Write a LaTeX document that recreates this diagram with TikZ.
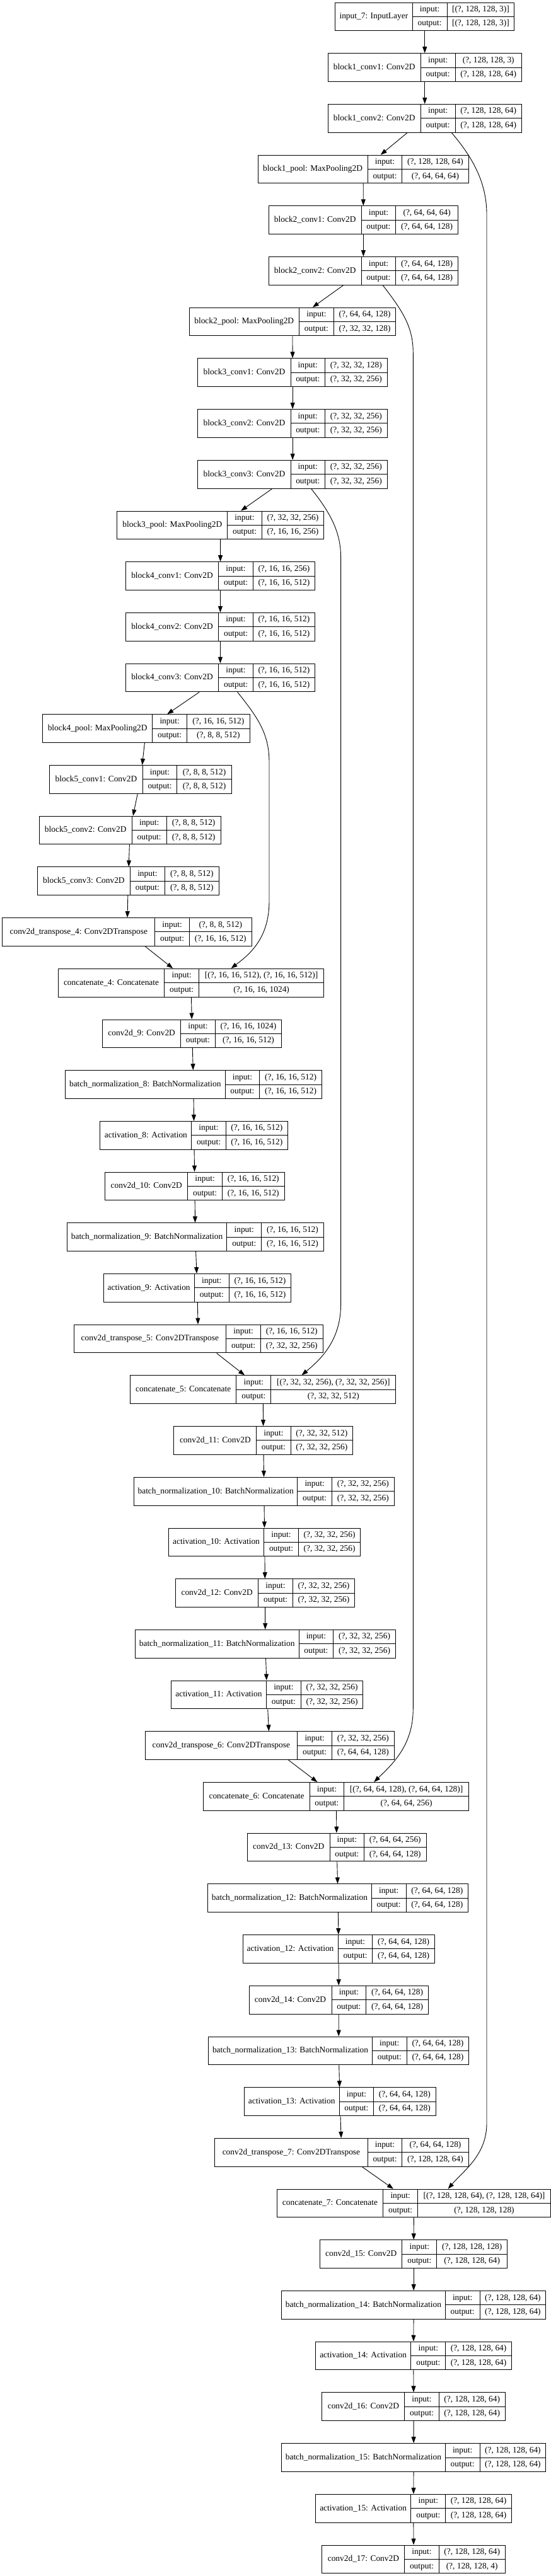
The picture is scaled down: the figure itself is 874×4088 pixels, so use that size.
\documentclass[tikz,border=0pt]{standalone}
\usepackage{fontspec}
\setmainfont{Liberation Serif}
\usetikzlibrary{arrows.meta}

% слой: имя, ряд, x левый, x разделитель 1, x разделитель 2, x правый, подпись, вход, выход
\newcommand{\layer}[9]{%
  \pgfmathsetmacro{\ltop}{4+80.7*#2}%
  \pgfmathsetmacro{\lmid}{\ltop+22.35}%
  \pgfmathsetmacro{\lbot}{\ltop+44.7}%
  \node[mybox, minimum width={(#6-#3)*1pt}] (#1) at ({(#3+#6)/2},\lmid) {};
  \draw[mycell] (#4,\ltop) -- (#4,\lbot) (#5,\ltop) -- (#5,\lbot) (#4,\lmid) -- (#6,\lmid);
  \node[mytext] (#1-name) at ({(#3+#4)/2},\lmid) {#7};
  \node[mytext] (#1-ikey) at ({(#4+#5)/2},\lmid-11.2) {input:};
  \node[mytext] (#1-okey) at ({(#4+#5)/2},\lmid+11.2) {output:};
  \node[mytext] (#1-ival) at ({(#5+#6)/2},\lmid-11.2) {#8};
  \node[mytext] (#1-oval) at ({(#5+#6)/2},\lmid+11.2) {#9};
}

\begin{document}
\begin{tikzpicture}[x=1pt, y=-1pt] % схема сети, ось y вниз
\tikzstyle{mybox} = [draw, rectangle, line width=1pt, minimum height=44.7pt, inner sep=0pt] % рамка слоя
\tikzstyle{mycell} = [line width=1pt] % линии между ячейками
\tikzstyle{mytext} = [inner sep=0pt, font=\fontsize{13.4}{15}\selectfont, text height=9.4pt, text depth=2.6pt] % текст в ячейке
\tikzstyle{myedge} = [line width=0.9pt, -{Triangle[length=10pt,width=7pt]}] % стрелка между слоями
\useasboundingbox (0,0) rectangle (874,4088);

% encoder
\layer{in7}{0}{531.6}{654.2}{709.0}{815.9}{input\_7: InputLayer}{[(?, 128, 128, 3)]}{[(?, 128, 128, 3)]}
\layer{b1c1}{1}{520.4}{667.0}{722.4}{827.1}{block1\_conv1: Conv2D}{(?, 128, 128, 3)}{(?, 128, 128, 64)}
\layer{b1c2}{2}{520.4}{667.0}{722.4}{827.1}{block1\_conv2: Conv2D}{(?, 128, 128, 64)}{(?, 128, 128, 64)}
\layer{b1pool}{3}{409.1}{583.1}{637.9}{743.1}{block1\_pool: MaxPooling2D}{(?, 128, 128, 64)}{(?, 64, 64, 64)}
\layer{b2c1}{4}{426.4}{573.0}{627.9}{726.4}{block2\_conv1: Conv2D}{(?, 64, 64, 64)}{(?, 64, 64, 128)}
\layer{b2c2}{5}{426.4}{573.0}{627.9}{726.4}{block2\_conv2: Conv2D}{(?, 64, 64, 128)}{(?, 64, 64, 128)}
\layer{b2pool}{6}{300.0}{474.5}{529.4}{627.9}{block2\_pool: MaxPooling2D}{(?, 64, 64, 128)}{(?, 32, 32, 128)}
\layer{b3c1}{7}{313.9}{461.1}{515.4}{614.4}{block3\_conv1: Conv2D}{(?, 32, 32, 128)}{(?, 32, 32, 256)}
\layer{b3c2}{8}{313.9}{461.1}{515.4}{614.4}{block3\_conv2: Conv2D}{(?, 32, 32, 256)}{(?, 32, 32, 256)}
\layer{b3c3}{9}{313.9}{461.1}{515.4}{614.4}{block3\_conv3: Conv2D}{(?, 32, 32, 256)}{(?, 32, 32, 256)}
\layer{b3pool}{10}{185.8}{360.9}{415.2}{513.7}{block3\_pool: MaxPooling2D}{(?, 32, 32, 256)}{(?, 16, 16, 256)}
\layer{b4c1}{11}{199.2}{346.9}{401.2}{499.7}{block4\_conv1: Conv2D}{(?, 16, 16, 256)}{(?, 16, 16, 512)}
\layer{b4c2}{12}{199.2}{346.9}{401.2}{499.7}{block4\_conv2: Conv2D}{(?, 16, 16, 512)}{(?, 16, 16, 512)}
\layer{b4c3}{13}{199.2}{346.9}{401.2}{499.7}{block4\_conv3: Conv2D}{(?, 16, 16, 512)}{(?, 16, 16, 512)}
\layer{b4pool}{14}{67.7}{241.7}{296.6}{396.2}{block4\_pool: MaxPooling2D}{(?, 16, 16, 512)}{(?, 8, 8, 512)}
\layer{b5c1}{15}{78.9}{226.1}{280.9}{367.1}{block5\_conv1: Conv2D}{(?, 8, 8, 512)}{(?, 8, 8, 512)}
\layer{b5c2}{16}{62.1}{209.3}{264.1}{350.3}{block5\_conv2: Conv2D}{(?, 8, 8, 512)}{(?, 8, 8, 512)}
\layer{b5c3}{17}{59.3}{206.5}{261.3}{347.5}{block5\_conv3: Conv2D}{(?, 8, 8, 512)}{(?, 8, 8, 512)}
% decoder
\layer{ct4}{18}{3.9}{245.7}{300.5}{399.0}{conv2d\_transpose\_4: Conv2DTranspose}{(?, 8, 8, 512)}{(?, 16, 16, 512)}
\layer{cat4}{19}{92.3}{260.8}{315.6}{513.7}{concatenate\_4: Concatenate}{[(?, 16, 16, 512), (?, 16, 16, 512)]}{(?, 16, 16, 1024)}
\layer{c9}{20}{162.8}{286.5}{341.4}{446.6}{conv2d\_9: Conv2D}{(?, 16, 16, 1024)}{(?, 16, 16, 512)}
\layer{bn8}{21}{103.5}{357.0}{411.9}{510.3}{batch\_normalization\_8: BatchNormalization}{(?, 16, 16, 512)}{(?, 16, 16, 512)}
\layer{act8}{22}{158.9}{303.9}{358.1}{456.6}{activation\_8: Activation}{(?, 16, 16, 512)}{(?, 16, 16, 512)}
\layer{c10}{23}{166.8}{297.7}{352.5}{451.0}{conv2d\_10: Conv2D}{(?, 16, 16, 512)}{(?, 16, 16, 512)}
\layer{bn9}{24}{106.3}{359.8}{414.7}{513.2}{batch\_normalization\_9: BatchNormalization}{(?, 16, 16, 512)}{(?, 16, 16, 512)}
\layer{act9}{25}{164.0}{308.3}{363.2}{461.7}{activation\_9: Activation}{(?, 16, 16, 512)}{(?, 16, 16, 512)}
\layer{ct5}{26}{117.0}{358.7}{413.5}{512.0}{conv2d\_transpose\_5: Conv2DTranspose}{(?, 16, 16, 512)}{(?, 32, 32, 256)}
\layer{cat5}{27}{206.5}{374.9}{429.8}{627.9}{concatenate\_5: Concatenate}{[(?, 32, 32, 256), (?, 32, 32, 256)]}{(?, 32, 32, 512)}
\layer{c11}{28}{275.9}{406.8}{461.1}{559.6}{conv2d\_11: Conv2D}{(?, 32, 32, 512)}{(?, 32, 32, 256)}
\layer{bn10}{29}{212.6}{471.7}{526.6}{625.1}{batch\_normalization\_10: BatchNormalization}{(?, 32, 32, 256)}{(?, 32, 32, 256)}
\layer{act10}{30}{267.5}{418.6}{473.4}{571.9}{activation\_10: Activation}{(?, 32, 32, 256)}{(?, 32, 32, 256)}
\layer{c12}{31}{278.7}{409.6}{464.5}{562.4}{conv2d\_12: Conv2D}{(?, 32, 32, 256)}{(?, 32, 32, 256)}
\layer{bn11}{32}{214.3}{474.0}{528.8}{627.3}{batch\_normalization\_11: BatchNormalization}{(?, 32, 32, 256)}{(?, 32, 32, 256)}
\layer{act11}{33}{271.4}{422.5}{477.3}{575.8}{activation\_11: Activation}{(?, 32, 32, 256)}{(?, 32, 32, 256)}
\layer{ct6}{34}{230.0}{471.7}{526.6}{625.1}{conv2d\_transpose\_6: Conv2DTranspose}{(?, 32, 32, 256)}{(?, 64, 64, 128)}
\layer{cat6}{35}{322.9}{491.3}{545.6}{743.7}{concatenate\_6: Concatenate}{[(?, 64, 64, 128), (?, 64, 64, 128)]}{(?, 64, 64, 256)}
\layer{c13}{36}{392.3}{523.2}{577.5}{676.0}{conv2d\_13: Conv2D}{(?, 64, 64, 256)}{(?, 64, 64, 128)}
\layer{bn12}{37}{329.6}{589.3}{644.1}{742.6}{batch\_normalization\_12: BatchNormalization}{(?, 64, 64, 128)}{(?, 64, 64, 128)}
\layer{act12}{38}{385.0}{536.1}{590.9}{689.4}{activation\_12: Activation}{(?, 64, 64, 128)}{(?, 64, 64, 128)}
\layer{c14}{39}{395.1}{526.0}{580.9}{679.4}{conv2d\_14: Conv2D}{(?, 64, 64, 128)}{(?, 64, 64, 128)}
\layer{bn13}{40}{330.7}{590.4}{645.2}{743.7}{batch\_normalization\_13: BatchNormalization}{(?, 64, 64, 128)}{(?, 64, 64, 128)}
\layer{act13}{41}{387.2}{538.3}{592.6}{691.1}{activation\_13: Activation}{(?, 64, 64, 128)}{(?, 64, 64, 128)}
\layer{ct7}{42}{340.8}{583.1}{637.9}{743.1}{conv2d\_transpose\_7: Conv2DTranspose}{(?, 64, 64, 128)}{(?, 128, 128, 64)}
\layer{cat7}{43}{439.3}{607.7}{662.6}{873.5}{concatenate\_7: Concatenate}{[(?, 128, 128, 64), (?, 128, 128, 64)]}{(?, 128, 128, 128)}
\layer{c15}{44}{507.6}{637.9}{692.8}{804.7}{conv2d\_15: Conv2D}{(?, 128, 128, 128)}{(?, 128, 128, 64)}
\layer{bn14}{45}{446.6}{706.2}{761.1}{865.7}{batch\_normalization\_14: BatchNormalization}{(?, 128, 128, 64)}{(?, 128, 128, 64)}
\layer{act14}{46}{500.3}{651.9}{706.8}{811.4}{activation\_14: Activation}{(?, 128, 128, 64)}{(?, 128, 128, 64)}
\layer{c16}{47}{510.9}{641.9}{696.1}{801.3}{conv2d\_16: Conv2D}{(?, 128, 128, 64)}{(?, 128, 128, 64)}
\layer{bn15}{48}{446.6}{706.2}{761.1}{865.7}{batch\_normalization\_15: BatchNormalization}{(?, 128, 128, 64)}{(?, 128, 128, 64)}
\layer{act15}{49}{500.3}{651.9}{706.8}{811.4}{activation\_15: Activation}{(?, 128, 128, 64)}{(?, 128, 128, 64)}
\layer{c17}{50}{510.9}{641.9}{696.1}{801.3}{conv2d\_17: Conv2D}{(?, 128, 128, 64)}{(?, 128, 128, 4)}

% основная цепочка
\draw[myedge] (in7) -- (b1c1); \draw[myedge] (b1c1) -- (b1c2); \draw[myedge] (b1c2) -- (b1pool);
\draw[myedge] (b1pool) -- (b2c1); \draw[myedge] (b2c1) -- (b2c2); \draw[myedge] (b2c2) -- (b2pool);
\draw[myedge] (b2pool) -- (b3c1); \draw[myedge] (b3c1) -- (b3c2); \draw[myedge] (b3c2) -- (b3c3);
\draw[myedge] (b3c3) -- (b3pool); \draw[myedge] (b3pool) -- (b4c1); \draw[myedge] (b4c1) -- (b4c2);
\draw[myedge] (b4c2) -- (b4c3); \draw[myedge] (b4c3) -- (b4pool); \draw[myedge] (b4pool) -- (b5c1);
\draw[myedge] (b5c1) -- (b5c2); \draw[myedge] (b5c2) -- (b5c3); \draw[myedge] (b5c3) -- (ct4);
\draw[myedge] (ct4) -- (cat4); \draw[myedge] (cat4) -- (c9); \draw[myedge] (c9) -- (bn8);
\draw[myedge] (bn8) -- (act8); \draw[myedge] (act8) -- (c10); \draw[myedge] (c10) -- (bn9);
\draw[myedge] (bn9) -- (act9); \draw[myedge] (act9) -- (ct5); \draw[myedge] (ct5) -- (cat5);
\draw[myedge] (cat5) -- (c11); \draw[myedge] (c11) -- (bn10); \draw[myedge] (bn10) -- (act10);
\draw[myedge] (act10) -- (c12); \draw[myedge] (c12) -- (bn11); \draw[myedge] (bn11) -- (act11);
\draw[myedge] (act11) -- (ct6); \draw[myedge] (ct6) -- (cat6); \draw[myedge] (cat6) -- (c13);
\draw[myedge] (c13) -- (bn12); \draw[myedge] (bn12) -- (act12); \draw[myedge] (act12) -- (c14);
\draw[myedge] (c14) -- (bn13); \draw[myedge] (bn13) -- (act13); \draw[myedge] (act13) -- (ct7);
\draw[myedge] (ct7) -- (cat7); \draw[myedge] (cat7) -- (c15); \draw[myedge] (c15) -- (bn14);
\draw[myedge] (bn14) -- (act14); \draw[myedge] (act14) -- (c16); \draw[myedge] (c16) -- (bn15);
\draw[myedge] (bn15) -- (act15); \draw[myedge] (act15) -- (c17);

% skip connections
\draw[myedge] ([xshift=42.5pt]b1c2.south) .. controls (750,250) and (772,290) .. (772,340) -- (772,3370) .. controls (772,3420) and (735,3445) .. ([xshift=54.3pt]cat7.north);
\draw[myedge] ([xshift=30.8pt]b2c2.south) .. controls (640,495) and (655.3,520) .. (655.3,560) -- (655.3,2712) .. controls (655.3,2770) and (622,2800) .. ([xshift=59.9pt]cat6.north);
\draw[myedge] ([xshift=29.4pt]b3c3.south) .. controls (525,815) and (540.6,845) .. (540.6,885) -- (540.6,2070) .. controls (540.6,2130) and (505,2160) .. ([xshift=61.3pt]cat5.north);
\draw[myedge] ([xshift=27.2pt]b4c3.south) .. controls (410,1140) and (427,1165) .. (427,1210) -- (427,1430) .. controls (427,1490) and (395,1515) .. ([xshift=63.5pt]cat4.north);
\end{tikzpicture}
\end{document}
